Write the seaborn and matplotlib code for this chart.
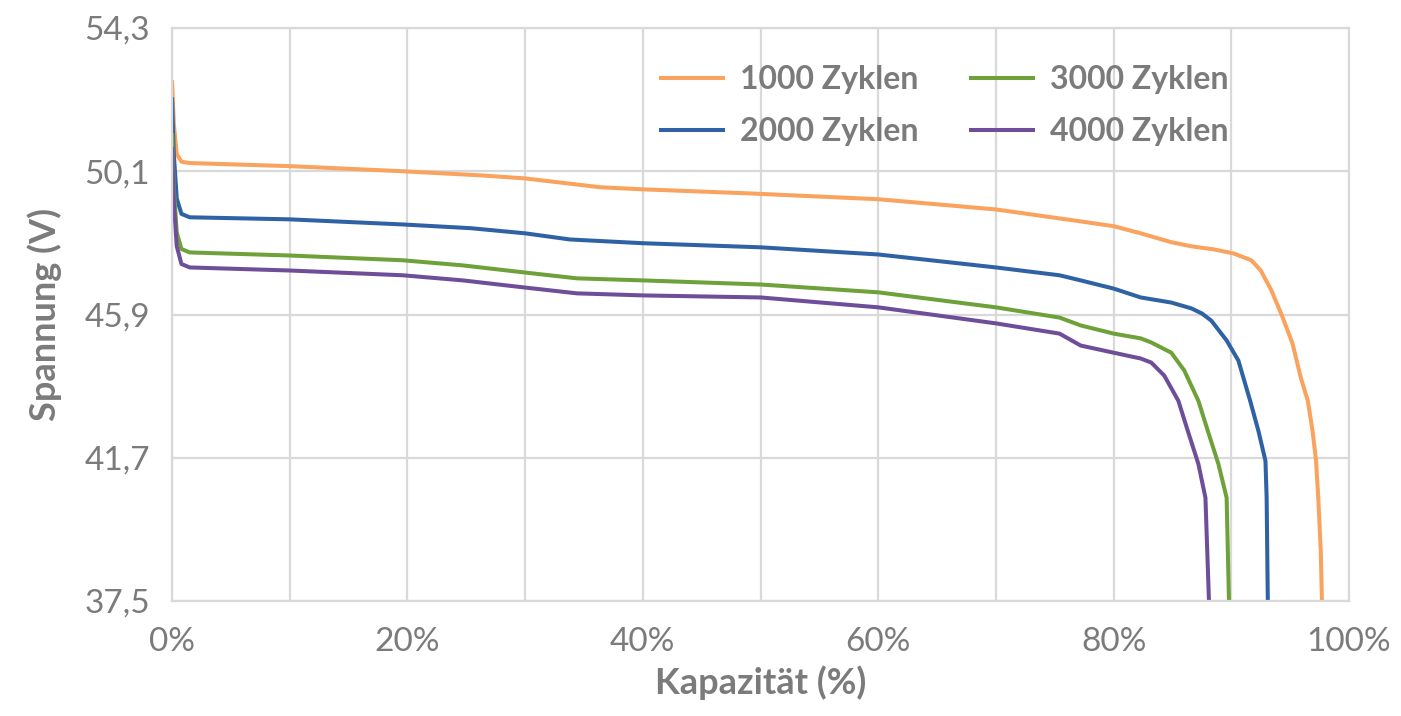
import matplotlib
matplotlib.use("Agg")
import matplotlib.pyplot as plt
from matplotlib.ticker import MultipleLocator, FuncFormatter
import seaborn as sns
import pandas as pd

# Entladekurven, Werte (Kapazitaet in %, Spannung in V)
x_1000 = [0, 0.15, 0.4, 0.8, 1.5, 10, 19.6, 26.2, 30, 36.4, 40, 49.1, 60, 70, 77.2, 80, 82.3, 84.9,
          86.6, 88.5, 90.2, 91.7, 92.5, 93.4, 94.3, 95.2, 95.9, 96.5, 96.9, 97.2, 97.4, 97.6, 97.7]
v_1000 = [52.77, 51.5, 50.6, 50.38, 50.34, 50.25, 50.10, 49.98, 49.89, 49.63, 49.57, 49.45, 49.28, 48.98, 48.63, 48.49, 48.28, 48.02,
          47.90, 47.81, 47.69, 47.49, 47.19, 46.61, 45.87, 45.05, 44.05, 43.37, 42.49, 41.61, 40.44, 38.97, 37.5]

x_2000 = [0, 0.15, 0.4, 0.8, 1.5, 10, 19.6, 25.4, 30, 33.8, 40, 50, 60, 70, 75.4, 77.2, 80, 82.3, 84.9,
          86.6, 87.5, 88.3, 89.6, 90.6, 91.6, 92.3, 92.9, 93.0, 93.1]
v_2000 = [52.27, 50.6, 49.3, 48.85, 48.75, 48.69, 48.54, 48.43, 48.28, 48.10, 47.99, 47.87, 47.66, 47.28, 47.05, 46.90, 46.66, 46.40, 46.25,
          46.08, 45.93, 45.72, 45.14, 44.55, 43.37, 42.49, 41.61, 40.53, 37.5]

x_3000 = [0, 0.15, 0.4, 0.8, 1.5, 10, 19.6, 24.7, 30, 34.4, 40, 50, 60, 70, 75.4, 77.2, 80, 82.3, 83.2,
          84.9, 86.0, 87.2, 88.0, 88.9, 89.6, 89.8]
v_3000 = [51.22, 49.6, 48.3, 47.82, 47.72, 47.63, 47.49, 47.34, 47.13, 46.96, 46.90, 46.78, 46.55, 46.11, 45.81, 45.58, 45.34, 45.20, 45.08,
          44.78, 44.26, 43.37, 42.49, 41.52, 40.53, 37.5]

x_4000 = [0, 0.15, 0.4, 0.8, 1.5, 10, 19.6, 24.7, 30, 34.4, 40, 50, 60, 70, 75.4, 77.2, 80, 82.3, 83.2,
          84.3, 85.5, 86.3, 87.2, 87.8, 88.1]
v_4000 = [50.81, 49.2, 47.9, 47.38, 47.28, 47.19, 47.05, 46.90, 46.69, 46.52, 46.46, 46.40, 46.11, 45.64, 45.34, 44.99, 44.78, 44.61, 44.49,
          44.11, 43.37, 42.49, 41.52, 40.53, 37.5]

labels = ["1000 Zyklen", "2000 Zyklen", "3000 Zyklen", "4000 Zyklen"]
colors = ["#F9A35E", "#2F62A5", "#6FA13B", "#6E4E98"]
y_ticks = [37.5, 41.7, 45.9, 50.1, 54.3]

rows = []
for lab, xs, vs in zip(labels, [x_1000, x_2000, x_3000, x_4000], [v_1000, v_2000, v_3000, v_4000]):
    for xx, vv in zip(xs, vs):
        rows.append({"Kapazitaet": xx, "Spannung": vv, "Serie": lab})
df = pd.DataFrame(rows)

sns.set_style("white")
plt.rcParams["font.family"] = ["Lato", "DejaVu Sans"]
text_gray = "#7B7B7B"
grid_gray = "#D9D9D9"

fig = plt.figure(figsize=(14.01, 7.16), dpi=100)
ax = fig.add_axes([0.1228, 0.1606, 0.8401, 0.8003])

sns.lineplot(data=df, x="Kapazitaet", y="Spannung", hue="Serie", hue_order=labels,
             palette=colors, estimator=None, sort=False, units="Serie",
             linewidth=2.9, ax=ax)
for ln in ax.lines:
    ln.set_solid_joinstyle("round")
    ln.set_solid_capstyle("butt")

ax.set_xlim(0, 100)
ax.set_ylim(37.5, 54.3)
ax.set_yticks(y_ticks)
ax.yaxis.set_major_formatter(FuncFormatter(lambda v, p: f"{v:.1f}".replace(".", ",")))
ax.xaxis.set_major_locator(MultipleLocator(20))
ax.xaxis.set_minor_locator(MultipleLocator(10))
ax.xaxis.set_major_formatter(FuncFormatter(lambda v, p: f"{v:.0f}%"))
ax.grid(True, which="both", axis="x", color=grid_gray, linewidth=1.6)
ax.grid(True, which="major", axis="y", color=grid_gray, linewidth=1.6)
ax.set_axisbelow(True)
for s in ax.spines.values():
    s.set_color(grid_gray)
    s.set_linewidth(1.6)

ax.tick_params(axis="both", which="both", length=0, labelsize=24, colors=text_gray)
ax.tick_params(axis="x", pad=19)
ax.tick_params(axis="y", pad=16)

ax.set_xlabel("Kapazität (%)", fontsize=26, fontweight="bold", color=text_gray, labelpad=6)
ax.set_ylabel("Spannung (V)", fontsize=26, fontweight="bold", color=text_gray, labelpad=16)

leg = ax.legend(ncol=2, frameon=False, loc="upper right", bbox_to_anchor=(0.922, 0.985),
                fontsize=23, handlelength=2.06, columnspacing=1.6, handletextpad=0.46,
                labelspacing=0.72)
for t in leg.get_texts():
    t.set_color(text_gray)
    t.set_fontweight("bold")

fig.savefig("out.png", dpi=100)
